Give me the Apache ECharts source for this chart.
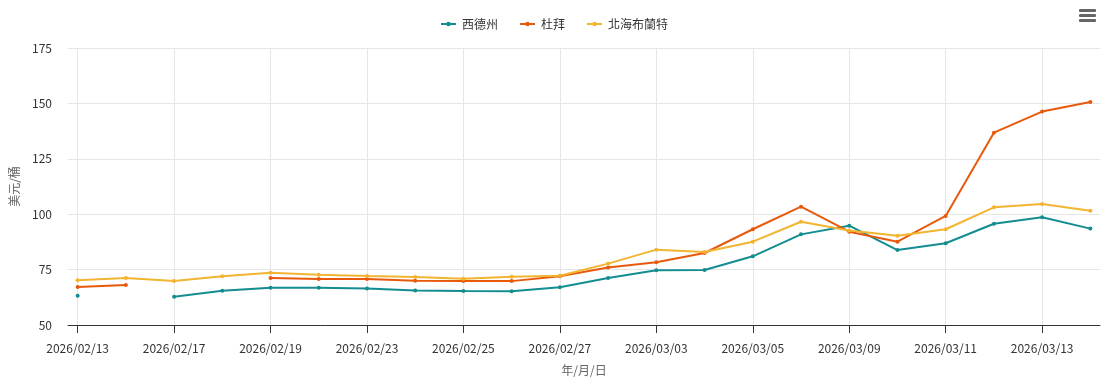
<!DOCTYPE html>
<html><head><meta charset="utf-8">
<script src="https://cdn.jsdelivr.net/npm/echarts@6/dist/echarts.min.js"></script>
<style>html,body{margin:0;padding:0;background:#fff}#c{width:1109px;height:381px}</style>
</head><body><div id="c"></div>
<script>
const categories = ['2026/02/13','2026/02/16','2026/02/17','2026/02/18','2026/02/19','2026/02/20','2026/02/23','2026/02/24','2026/02/25','2026/02/26','2026/02/27','2026/03/02','2026/03/03','2026/03/04','2026/03/05','2026/03/06','2026/03/09','2026/03/10','2026/03/11','2026/03/12','2026/03/13','2026/03/16'];
const tickLabels = ['2026/02/13','2026/02/17','2026/02/19','2026/02/23','2026/02/25','2026/02/27','2026/03/03','2026/03/05','2026/03/09','2026/03/11','2026/03/13'];
const wti   = [63.2, null, 62.8, 65.5, 66.8, 66.8, 66.5, 65.6, 65.3, 65.2, 67.0, 71.2, 74.7, 74.8, 81.0, 90.9, 94.8, 83.8, 86.9, 95.7, 98.6, 93.5];
const dubai = [67.1, 68.0, null, null, 71.2, 70.8, 70.8, 70.0, 69.9, 69.8, 72.0, 75.9, 78.3, 82.5, 93.2, 103.4, 92.1, 87.6, 99.2, 136.8, 146.3, 150.6];
const brent = [70.2, 71.2, 69.9, 72.0, 73.6, 72.7, 72.1, 71.7, 70.9, 71.8, 72.2, 77.7, 84.0, 82.9, 87.6, 96.6, 92.6, 90.3, 93.2, 103.1, 104.6, 101.6];
const seriesNames = ['西德州','杜拜','北海布蘭特'];
const colors = ['#138d90','#e8590c','#f2b531'];

const tickIdx = tickLabels.map(t => categories.indexOf(t));
const font = '"Noto Sans CJK TC","Noto Sans",sans-serif';
function pairs(arr){ return arr.map((v,i)=>[i, v]); }

const chart = echarts.init(document.getElementById('c'));
chart.setOption({
  animation: false,
  color: colors,
  textStyle: {fontFamily: font},
  legend: {
    top: 13, left: 'center', itemWidth: 15, itemHeight: 10, itemGap: 22,
    icon: 'path://M0,4.1L15,4.1L15,5.9L0,5.9Z M5.3,5a2.2,2.2 0 1,1 4.4,0a2.2,2.2 0 1,1 -4.4,0Z',
    textStyle: {color: '#333', fontSize: 12, fontFamily: font, padding: [0,0,0,1]},
    data: seriesNames
  },
  grid: {left: 66, right: 9, top: 48, bottom: 56, containLabel: false},
  xAxis: {
    type: 'value', min: -0.2, max: 21.2,
    name: '年/月/日', nameLocation: 'middle', nameGap: 39,
    nameTextStyle: {color: '#666', fontSize: 12, fontFamily: font},
    axisLine: {show: true, lineStyle: {color: '#333', width: 1}},
    axisTick: {show: true, length: 8, lineStyle: {color: '#333'}, customValues: tickIdx},
    axisLabel: {color: '#333', fontSize: 12, margin: 17, customValues: tickIdx,
      formatter: v => categories[Math.round(v)] || ''},
    splitLine: {show: true, lineStyle: {color: '#e6e6e6'}}
  },
  yAxis: {
    type: 'value', min: 50, max: 175, interval: 25,
    name: '美元/桶', nameLocation: 'middle', nameGap: 48, nameRotate: 90,
    nameTextStyle: {color: '#666', fontSize: 12, fontFamily: font},
    axisLine: {show: false}, axisTick: {show: false},
    axisLabel: {color: '#333', fontSize: 12, margin: 16},
    splitLine: {lineStyle: {color: '#e6e6e6'}}
  },
  series: [
    {name: seriesNames[0], type: 'line', data: pairs(wti), symbol: 'circle', symbolSize: 4, showAllSymbol: true, lineStyle: {width: 2}, connectNulls: false},
    {name: seriesNames[1], type: 'line', data: pairs(dubai), symbol: 'circle', symbolSize: 4, showAllSymbol: true, lineStyle: {width: 2}, connectNulls: false},
    {name: seriesNames[2], type: 'line', data: pairs(brent), symbol: 'circle', symbolSize: 4, showAllSymbol: true, lineStyle: {width: 2}, connectNulls: false}
  ],
  graphic: [
    {type: 'rect', left: 1079, top: 9, shape: {width: 17, height: 3, r: 1}, style: {fill: '#666'}},
    {type: 'rect', left: 1079, top: 14, shape: {width: 17, height: 3, r: 1}, style: {fill: '#666'}},
    {type: 'rect', left: 1079, top: 19, shape: {width: 17, height: 3, r: 1}, style: {fill: '#666'}}
  ]
});
</script></body></html>
